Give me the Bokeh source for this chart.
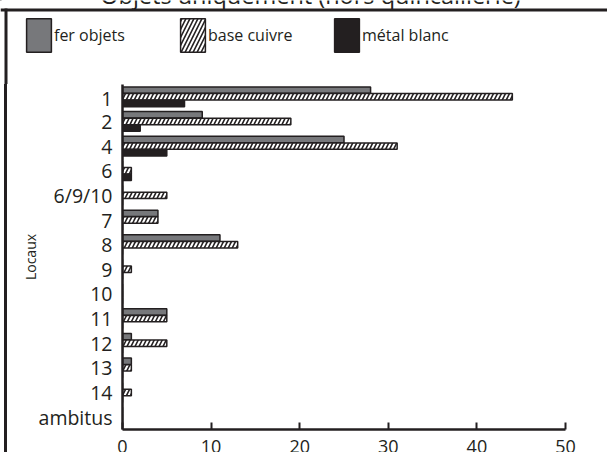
from bokeh.plotting import figure
from bokeh.layouts import column
from bokeh.models import (FactorRange, FixedTicker, Legend, LegendItem, Label, Span,
                          ColumnDataSource, Range1d)
from bokeh.transform import dodge
from bokeh.embed import file_html
from bokeh.resources import INLINE

title = "Objets uniquement (hors quincaillerie)"
locaux = ["1", "2", "4", "6", "6/9/10", "7", "8", "9", "10", "11", "12", "13", "14", "ambitus"]
fer_objets = [28, 9, 25, 0, 0, 4, 11, 0, 0, 5, 1, 1, 0, 0]
base_cuivre = [44, 19, 31, 1, 5, 4, 13, 1, 0, 5, 5, 1, 1, 0]
metal_blanc = [7, 2, 5, 1, 0, 0, 0, 0, 0, 0, 0, 0, 0, 0]
series_names = ["fer objets", "base cuivre", "métal blanc"]
x_ticks = [0, 10, 20, 30, 40, 50]

FONT = "Open Sans"
INK = "#231f20"
GREY = "#77787b"

styles = [
    dict(fill_color=GREY, line_color=INK, line_width=1.5),
    dict(fill_color="white", line_color=INK, line_width=1.5,
         hatch_pattern="/", hatch_color=INK, hatch_weight=1.6, hatch_scale=8),
    dict(fill_color=INK, line_color=INK, line_width=1.5),
]


def bare(fig):
    fig.outline_line_color = None
    fig.grid.visible = False
    fig.background_fill_color = "white"
    fig.border_fill_color = "white"


# --- header: title (cut at the top), frame corner and legend ---
hfig = figure(width=607, height=84, output_backend="svg", toolbar_location=None,
              x_range=Range1d(0, 607), y_range=Range1d(84, 0),
              min_border=0, x_axis_type=None, y_axis_type=None)
bare(hfig)
hfig.add_layout(Label(x=310, y=-6, text=title, text_align="center", text_baseline="alphabetic",
                      text_font=FONT, text_font_size="23.5px", text_color=INK))
hfig.add_layout(Span(location=9.5, dimension="width", line_color=INK, line_width=3))
hfig.segment(x0=[5.5], y0=[8], x1=[5.5], y1=[84], line_color=INK, line_width=3)

# zero-size placeholder bars (outside the visible strip) so the legend can draw its swatches
dummy = ColumnDataSource(dict(y=[-100], right=[0]))
leg_r = [hfig.hbar(y="y", right="right", left=0, height=0, source=dummy, **st) for st in styles]
legend = Legend(items=[LegendItem(label=n, renderers=[r]) for n, r in zip(series_names, leg_r)],
                orientation="horizontal", location=(23, 28),
                glyph_width=31, glyph_height=42, label_width=113, label_standoff=0,
                spacing=10, padding=0, margin=0,
                border_line_color=None, background_fill_alpha=0,
                label_text_font=FONT, label_text_font_size="16px", label_text_color=INK)
hfig.add_layout(legend, "center")

# --- main chart ---
src = ColumnDataSource(dict(loc=locaux, fer=fer_objets, cuivre=base_cuivre, metal=metal_blanc))
p = figure(width=600, height=380, output_backend="svg", toolbar_location=None,
           y_range=FactorRange(*list(reversed(locaux)), range_padding=0),
           x_range=(0, 50), min_border_left=115, min_border_right=42,
           min_border_top=0, min_border_bottom=35)
bare(p)

bh = 0.26
p.hbar(y=dodge("loc", 0.27, range=p.y_range), right="fer", height=bh, left=0, source=src, **styles[0])
p.hbar(y=dodge("loc", 0.0, range=p.y_range), right="cuivre", height=bh, left=0, source=src, **styles[1])
p.hbar(y=dodge("loc", -0.27, range=p.y_range), right="metal", height=bh, left=0, source=src, **styles[2])

xa = p.xaxis[0]
xa.ticker = FixedTicker(ticks=x_ticks)
xa.major_tick_in = 7
xa.major_tick_out = 0
xa.minor_tick_line_color = None
xa.axis_line_width = 2.5
xa.axis_line_color = INK
xa.major_tick_line_width = 2
xa.major_tick_line_color = INK
xa.major_label_text_font = FONT
xa.major_label_text_font_size = "18px"
xa.major_label_text_color = INK
xa.major_label_standoff = 10

ya = p.yaxis[0]
ya.axis_line_width = 2.5
ya.axis_line_color = INK
ya.major_tick_line_color = None
ya.minor_tick_line_color = None
ya.major_label_text_font = FONT
ya.major_label_text_font_size = "19.5px"
ya.major_label_text_color = INK
ya.major_label_standoff = 4
ya.axis_label = "Locaux"
ya.axis_label_text_font = FONT
ya.axis_label_text_font_size = "14px"
ya.axis_label_text_font_style = "normal"
ya.axis_label_text_color = INK
ya.axis_label_standoff = -4

box = column(p, spacing=0,
             styles={"border-left": f"3px solid {INK}", "margin-left": "4px"})
layout = column(hfig, box, spacing=0)

open("out.html", "w").write(file_html(layout, INLINE))
